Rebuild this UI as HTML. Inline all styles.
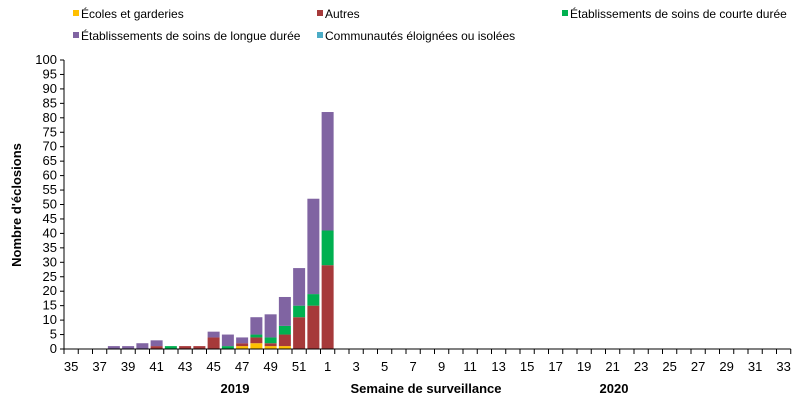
<!DOCTYPE html>
<html><head><meta charset="utf-8"><style>
body{margin:0;background:#fff;font-family:"Liberation Sans",Arial,sans-serif}
svg text{font-family:"Liberation Sans",Arial,sans-serif}
</style></head><body>
<svg id="c" width="805" height="403" xmlns="http://www.w3.org/2000/svg">
<g id="legend" font-size="12" fill="#000"></g>
<g id="grid"></g>
<g id="bars"></g>
<g id="xax"></g>
<text transform="translate(21,205) rotate(-90)" text-anchor="middle" font-size="13" font-weight="bold">Nombre d'éclosions</text>
<text x="426" y="393" text-anchor="middle" font-size="13" font-weight="bold">Semaine de surveillance</text>
<text x="235" y="393" text-anchor="middle" font-size="13" font-weight="bold">2019</text>
<text x="614" y="393" text-anchor="middle" font-size="13" font-weight="bold">2020</text>
</svg>
<script>
const weeks=[35,36,37,38,39,40,41,42,43,44,45,46,47,48,49,50,51,52,1,2,3,4,5,6,7,8,9,10,11,12,13,14,15,16,17,18,19,20,21,22,23,24,25,26,27,28,29,30,31,32,33];
const ecoles=[0,0,0,0,0,0,0,0,0,0,0,0,1,2,1,1,0,0,0];
const autres=[0,0,0,0,0,0,1,0,1,1,4,0,1,2,1,4,11,15,29];
const courte=[0,0,0,0,0,0,0,1,0,0,0,1,0,1,2,3,4,4,12];
const longue=[0,0,0,1,1,2,2,0,0,0,2,4,2,6,8,10,13,33,41];
const communautes=[0,0,0,0,0,0,0,0,0,0,0,0,0,0,0,0,0,0,0];
const yTicks=[0,5,10,15,20,25,30,35,40,45,50,55,60,65,70,75,80,85,90,95,100];
const series=[
 {name:"Écoles et garderies",vals:ecoles,color:"#ffc000",lx:81,ly:18},
 {name:"Autres",vals:autres,color:"#a6393a",lx:325,ly:18},
 {name:"Établissements de soins de courte durée",vals:courte,color:"#00b050",lx:570,ly:18},
 {name:"Établissements de soins de longue durée",vals:longue,color:"#8064a2",lx:81,ly:40},
 {name:"Communautés éloignées ou isolées",vals:communautes,color:"#4bacc6",lx:325,ly:40}
];
const NS="http://www.w3.org/2000/svg";
const X0=64,BW=14.25,Y0=349,Y1=60,YMAX=100;
const y=v=>Y0-(v/YMAX)*(Y0-Y1);
const xc=i=>X0+BW*(i+0.5);
function mk(t,a,p){const e=document.createElementNS(NS,t);for(const k in a)e.setAttribute(k,a[k]);p.appendChild(e);return e;}
const grid=document.getElementById('grid');
mk('line',{x1:X0,x2:X0,y1:Y1,y2:Y0,stroke:'#000'},grid);
yTicks.forEach(t=>{
 const l=mk('line',{x1:X0-4,x2:X0,y1:y(t),y2:y(t),stroke:'#000'},grid);
 
 
 const tx=mk('text',{x:X0-7,y:y(t)+4,'text-anchor':'end','font-size':13},grid);
 tx.textContent=t;
 
 
});
const xax=document.getElementById('xax');
mk('line',{x1:X0,x2:X0+BW*weeks.length,y1:Y0,y2:Y0,stroke:'#000'},xax);
weeks.forEach((w,i)=>{
 mk('line',{x1:X0+BW*i,x2:X0+BW*i,y1:Y0,y2:Y0+5,stroke:'#000'},xax);
 if(i%2===0){
  const tx=mk('text',{x:xc(i),y:371,'text-anchor':'middle','font-size':13},xax);
  tx.textContent=w;
  
  
 }
});
mk('line',{x1:X0+BW*weeks.length,x2:X0+BW*weeks.length,y1:Y0,y2:Y0+5,stroke:'#000'},xax);
const bars=document.getElementById('bars');
const stack=new Array(weeks.length).fill(0);
series.forEach(s=>{
 s.vals.forEach((v,i)=>{
  if(!v)return;
  const r=mk('rect',{x:xc(i)-6,y:y(stack[i]+v),width:12,height:y(stack[i])-y(stack[i]+v),fill:s.color},bars);
  
  
  stack[i]+=v;
 });
});
const lg=document.getElementById('legend');
series.forEach(s=>{
 const r=mk('rect',{x:s.lx-8,y:s.ly-8,width:6,height:6,fill:s.color},lg);
 
 
 const t=mk('text',{x:s.lx,y:s.ly},lg);
 t.textContent=s.name;
 
 
});
</script>
</body></html>
